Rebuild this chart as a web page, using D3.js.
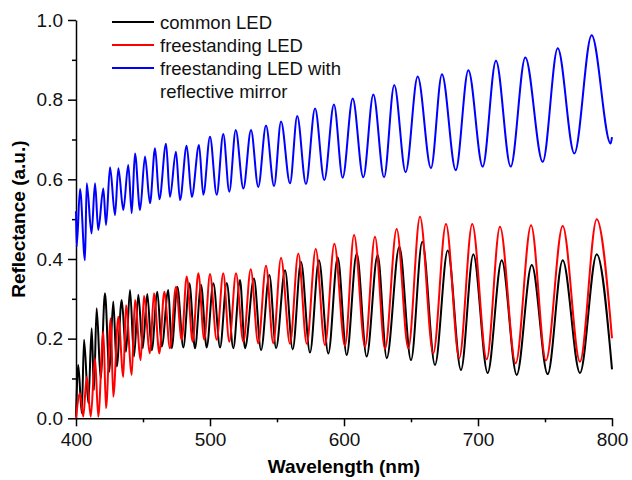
<!DOCTYPE html>
<html>
<head>
<meta charset="utf-8">
<script src="https://cdn.jsdelivr.net/npm/d3@7"></script>
<style>
  body { margin:0; background:#fff; }
  svg { font-family: Arial, "Liberation Sans", sans-serif; }
</style>
</head>
<body>
<div class="svg-container"></div>
<script>
// series values: [wavelength nm, reflectance]
const common_led = [
  [400,0.004],[401.7,0.134],[404.3,0.013],[406,0.197],[409.2,0.038],[411.7,0.226],[413.4,0.071],
  [415.4,0.276],[418.4,0.100],[421.6,0.314],[424.9,0.117],[427.8,0.293],[430.4,0.130],[434.1,0.297],
  [437.3,0.167],[440.3,0.322],[443.3,0.155],[446.5,0.310],[449.8,0.176],[453.2,0.312],[456.5,0.171],
  [460.7,0.318],[464,0.180],[468.9,0.322],[471.4,0.176],[475.6,0.330],[480.1,0.178],[484.6,0.339],
  [488.8,0.176],[493.3,0.335],[497.5,0.178],[502.5,0.339],[507.5,0.178],[512.5,0.340],[517.4,0.176],
  [522.4,0.347],[526.1,0.176],[532.8,0.351],[538.1,0.171],[544.3,0.360],[549.3,0.176],[556,0.372],
  [561.7,0.173],[567.9,0.393],[574.6,0.165],[581.3,0.397],[588.3,0.163],[595.3,0.404],[602,0.159],
  [609.5,0.414],[616.9,0.155],[625.1,0.410],[631.9,0.151],[641.3,0.431],[650,0.146],[658.4,0.443],
  [667.9,0.134],[677.4,0.421],[687.3,0.121],[696.5,0.412],[707.2,0.114],[717.7,0.397],[728.9,0.109],
  [740.1,0.385],[752,0.111],[763.2,0.397],[776.1,0.114],[788.6,0.412],[800,0.123]
];
const freestanding_led = [
  [400,0.001],[403,0.063],[405.4,0.004],[408,0.104],[411,0.004],[414.2,0.151],[416.6,0.004],
  [420.4,0.217],[422.4,0.025],[425.9,0.251],[427.8,0.054],[431.6,0.255],[435.3,0.104],[437.3,0.284],
  [441.6,0.109],[444,0.297],[448.3,0.146],[450.7,0.307],[455.2,0.163],[458.2,0.314],[462.2,0.163],
  [465.9,0.318],[470.1,0.176],[474.6,0.330],[478.9,0.197],[482.6,0.356],[487.1,0.192],[491.3,0.364],
  [495.7,0.197],[500,0.362],[505,0.197],[509.9,0.364],[514.4,0.192],[519.4,0.364],[524.9,0.192],
  [530.4,0.374],[536,0.188],[541.8,0.383],[547.2,0.188],[553,0.403],[559.7,0.187],[565.9,0.414],
  [572.2,0.187],[578.9,0.425],[585.8,0.184],[592.8,0.438],[600.7,0.182],[607.5,0.460],[615.7,0.180],
  [623.1,0.456],[630.6,0.174],[639.3,0.475],[648,0.176],[656.7,0.506],[666.6,0.163],[676.1,0.488],
  [686,0.151],[695.7,0.488],[706.5,0.148],[716.4,0.481],[728.1,0.138],[739.6,0.485],[750.7,0.145],
  [763.2,0.483],[776.1,0.142],[788.6,0.500],[800,0.201]
];
const mirror_led = [
  [400,0.52],[400.5,0.431],[403,0.576],[406.7,0.397],[408,0.590],[411.6,0.464],[414.2,0.590],
  [416.6,0.473],[420.4,0.577],[422.4,0.485],[425.4,0.630],[429.1,0.510],[431.6,0.628],[435.3,0.523],
  [439,0.636],[441.6,0.515],[444,0.665],[447.8,0.523],[451.5,0.657],[455.2,0.540],[459,0.678],
  [462.2,0.550],[467.2,0.689],[470.1,0.556],[474.6,0.669],[477.6,0.548],[482.6,0.684],[486.4,0.556],
  [491.8,0.686],[495,0.561],[500,0.707],[505,0.561],[509.9,0.714],[514.4,0.569],[519.2,0.724],
  [524.9,0.577],[530.6,0.724],[536,0.581],[541.8,0.735],[547.8,0.583],[553,0.745],[559.7,0.590],
  [565.1,0.759],[571.6,0.588],[578.4,0.778],[585.3,0.598],[592.5,0.788],[599,0.604],[606.5,0.803],
  [614.4,0.605],[621.9,0.813],[629.9,0.605],[637.5,0.837],[646,0.618],[655,0.858],[664.9,0.628],
  [673.1,0.864],[683.4,0.623],[692.8,0.874],[703.5,0.632],[713.4,0.898],[724.4,0.632],[735.3,0.906],
  [748.3,0.644],[759.5,0.929],[771.9,0.665],[784.8,0.962],[799,0.690],[800,0.706]
];

const series_names = ['common LED', 'freestanding LED', 'freestanding LED with|reflective mirror'];
const series_colors = ['#000000', '#ff0000', '#0000ff'];
const x_ticks = [400, 500, 600, 700, 800];
const y_ticks = [0.0, 0.2, 0.4, 0.6, 0.8, 1.0];

//plot area in px
const W = 632, H = 480;
const pLeft = 76, pRight = 612, pTop = 20, pBottom = 418.3;

const svg = d3.select('.svg-container')
    .append('svg')
    .attr('width', W)
    .attr('height', H);

const x = d3.scaleLinear().domain([400, 800]).range([pLeft, pRight]);
const y = d3.scaleLinear().domain([0, 1]).range([pBottom, pTop]);

//minor ticks first
svg.append('g')
    .attr('transform', `translate(0, ${pBottom})`)
    .call(d3.axisBottom(x).tickValues(d3.range(450, 800, 100)).tickSize(4).tickFormat(''))
    .call(g => g.select('.domain').remove());
svg.append('g')
    .attr('transform', `translate(${pLeft}, 0)`)
    .call(d3.axisLeft(y).tickValues(d3.range(0.1, 1.0, 0.2)).tickSize(4).tickFormat(''))
    .call(g => g.select('.domain').remove());

//major axes
const xAxis = svg.append('g')
    .attr('transform', `translate(0, ${pBottom})`)
    .call(d3.axisBottom(x).tickValues(x_ticks).tickSize(8).tickSizeOuter(0).tickPadding(6));
const yAxis = svg.append('g')
    .attr('transform', `translate(${pLeft}, 0)`)
    .call(d3.axisLeft(y).tickValues(y_ticks).tickSize(8).tickSizeOuter(0).tickPadding(5).tickFormat(d3.format('.1f')));

svg.selectAll('.tick line, .domain')
    .attr('stroke', '#000')
    .attr('stroke-width', 1.5);
[xAxis, yAxis].forEach(a => a.selectAll('text')
    .attr('font-size', 19)
    .attr('font-family', 'Arial, "Liberation Sans", sans-serif')
    .attr('fill', '#111'));

//axis titles
svg.append('text')
    .attr('x', (pLeft + pRight) / 2)
    .attr('y', 473)
    .attr('text-anchor', 'middle')
    .attr('font-size', 19)
    .attr('font-weight', 'bold')
    .text('Wavelength (nm)');
svg.append('text')
    .attr('transform', `translate(25, ${(pTop + pBottom) / 2}) rotate(-90)`)
    .attr('text-anchor', 'middle')
    .attr('font-size', 19)
    .attr('font-weight', 'bold')
    .text('Reflectance (a.u.)');

//lines
const line = d3.line()
    .x(d => x(d[0]))
    .y(d => y(d[1]))
    .curve(d3.curveMonotoneX);

svg.selectAll('.series')
    .data([common_led, freestanding_led, mirror_led])
    .join('path')
    .attr('class', 'series')
    .attr('d', line)
    .attr('fill', 'none')
    .attr('stroke', (d, i) => series_colors[i])
    .attr('stroke-width', 2)
    .attr('stroke-linejoin', 'round');

//legend
const legend = svg.append('g').attr('transform', 'translate(112, 22)');
series_names.forEach((name, i) => {
    const row = legend.append('g').attr('transform', `translate(0, ${i * 23})`);
    row.append('line')
        .attr('x1', 0).attr('x2', 42)
        .attr('stroke', series_colors[i])
        .attr('stroke-width', 2);
    name.split('|').forEach((t, j) => {
        row.append('text')
            .attr('x', 48)
            .attr('y', j * 23 + 6.5)
            .attr('font-size', 18.5)
            .attr('fill', '#111')
            .text(t);
    });
});
</script>
</body>
</html>
